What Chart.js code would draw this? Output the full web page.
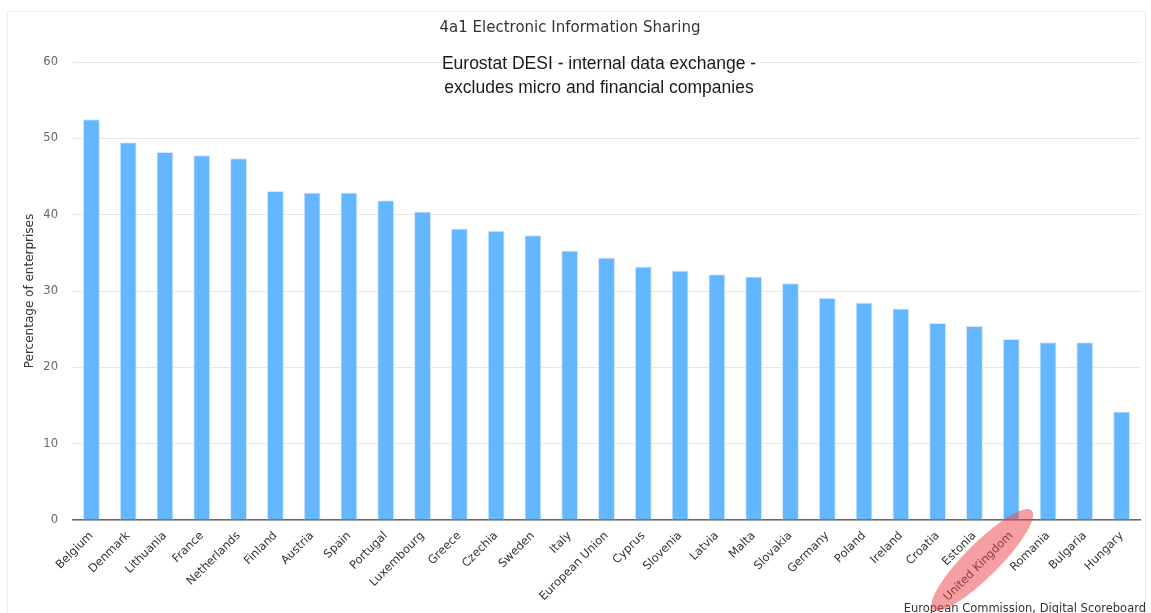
<!DOCTYPE html>
<html>
<head>
<meta charset="utf-8">
<title>4a1 Electronic Information Sharing</title>
<script src="https://cdn.jsdelivr.net/npm/chart.js@4"></script>
<style>
  html, body { margin: 0; padding: 0; background: #fff; }
  #chart { display: block; }
</style>
</head>
<body>
<canvas id="chart" width="1151" height="613"></canvas>
<script>
const countries = ["Belgium", "Denmark", "Lithuania", "France", "Netherlands", "Finland", "Austria", "Spain",
                   "Portugal", "Luxembourg", "Greece", "Czechia", "Sweden", "Italy", "European Union", "Cyprus",
                   "Slovenia", "Latvia", "Malta", "Slovakia", "Germany", "Poland", "Ireland", "Croatia",
                   "Estonia", "United Kingdom", "Romania", "Bulgaria", "Hungary"];
const shares = [52.5, 49.5, 48.2, 47.8, 47.4, 43.1, 42.9, 42.9,
                41.9, 40.4, 38.2, 37.9, 37.3, 35.3, 34.4, 33.2,
                32.7, 32.2, 31.9, 31.0, 29.1, 28.5, 27.7, 25.8,
                25.4, 23.7, 23.3, 23.3, 14.2];
const yTicks = [0, 10, 20, 30, 40, 50, 60];

const chartTitle = "4a1 Electronic Information Sharing";
const noteLines = ["Eurostat DESI - internal data exchange -", "excludes micro and financial companies"];
const yTitle = "Percentage of enterprises";
const credits = "European Commission, Digital Scoreboard";
const highlighted = "United Kingdom";

// frame, note in the plot, credits and the red marker round one label
const extras = {
    id: "extras",
    beforeDraw(chart) {
        const ctx = chart.ctx;
        ctx.save();
        ctx.fillStyle = "#fff";
        ctx.fillRect(0, 0, chart.width, chart.height);
        ctx.strokeStyle = "#ececec";
        ctx.lineWidth = 1;
        ctx.strokeRect(7.5, 11.5, 1138, 700);
        ctx.restore();
    },
    afterDraw(chart) {
        const ctx = chart.ctx;
        const x = chart.scales.x;
        ctx.save();
        ctx.fillStyle = "#1a1a1a";
        ctx.font = "17.5px 'Liberation Sans', Arial, sans-serif";
        ctx.textAlign = "center";
        ctx.textBaseline = "middle";
        noteLines.forEach((line, i) => ctx.fillText(line, 599, 64 + i * 24));

        ctx.fillStyle = "#333";
        ctx.font = "11.5px 'DejaVu Sans', sans-serif";
        ctx.textAlign = "right";
        ctx.textBaseline = "alphabetic";
        ctx.fillText(credits, 1146, 612);

        const ukX = x.getPixelForValue(countries.indexOf(highlighted));
        ctx.translate(ukX - 29, x.top + 40);
        ctx.rotate(-Math.PI / 4);
        ctx.beginPath();
        ctx.ellipse(0, 0, 70, 17, 0, 0, Math.PI * 2);
        ctx.fillStyle = "rgba(236, 64, 72, 0.5)";
        ctx.fill();
        ctx.restore();
    }
};

const data = {
    labels: countries,
    datasets: [{
        label: "Percentage of enterprises",
        data: shares,
        backgroundColor: "#64b6fe",
        borderColor: "#d4eaff",
        borderWidth: 1,
        barPercentage: 0.46,
        categoryPercentage: 1
    }]
};

const config = {
    type: "bar",
    data: data,
    options: {
        responsive: false,
        animation: false,
        layout: { padding: { left: 0, right: 11, top: 0, bottom: 0 } },
        plugins: {
            legend: { display: false },
            tooltip: { enabled: false },
            title: {
                display: true,
                text: chartTitle,
                color: "#333",
                font: { family: "'DejaVu Sans', sans-serif", size: 15, weight: "normal" },
                padding: { top: 19, bottom: 25 }
            }
        },
        scales: {
            x: {
                grid: { display: false, drawTicks: false },
                border: { color: "#666", width: 1.5 },
                ticks: {
                    autoSkip: false,
                    minRotation: 45,
                    maxRotation: 45,
                    padding: 9,
                    color: "#333",
                    font: { family: "'DejaVu Sans', sans-serif", size: 11.5 }
                },
                afterFit: scale => { scale.height = 93; }
            },
            y: {
                min: 0,
                max: 60,
                afterBuildTicks: scale => { scale.ticks = yTicks.map(v => ({ value: v })); },
                grid: { color: "#e6e6e6", drawTicks: false },
                border: { display: false },
                ticks: {
                    padding: 15,
                    color: "#666",
                    font: { family: "'DejaVu Sans', sans-serif", size: 11.5 }
                },
                title: {
                    display: true,
                    text: yTitle,
                    color: "#333",
                    font: { family: "'DejaVu Sans', sans-serif", size: 12 },
                    padding: { top: 23, bottom: 0 }
                },
                afterFit: scale => { scale.width = 73; }
            }
        }
    },
    plugins: [extras]
};

const myChart = new Chart(document.getElementById("chart"), config);
</script>
</body>
</html>
